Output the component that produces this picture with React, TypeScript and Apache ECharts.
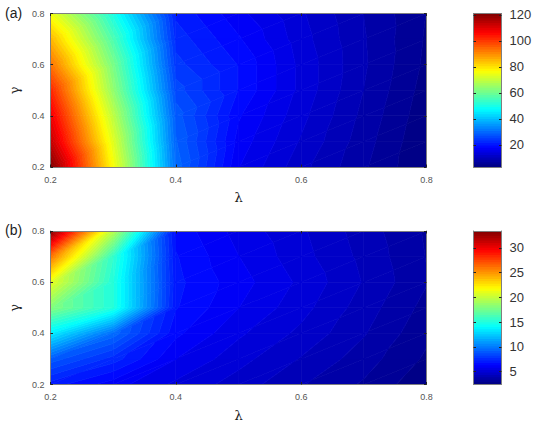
import React, { useEffect, useRef } from "react";
import * as echarts from "echarts";

const lambdas = [0.2, 0.3, 0.4, 0.5, 0.6, 0.7, 0.8];
const gammas = [0.2, 0.3, 0.4, 0.5, 0.6, 0.7, 0.8];
const axisTicks = [0.2, 0.4, 0.6, 0.8];

// rows: gamma ascending, columns: lambda ascending
const valuesA = [
  [121, 76, 30, 16, 11, 7, 3],
  [113, 73, 29, 17, 12, 7.5, 3.2],
  [108, 69, 28, 18, 12.8, 8, 3.6],
  [102, 64, 26, 19.5, 13.5, 8.5, 4],
  [93, 61, 24, 19.5, 13.5, 8.8, 4.4],
  [85, 56, 22.5, 18, 13, 8.7, 4.6],
  [75, 50, 21, 16.5, 12.5, 8.5, 4.8],
];
const valuesB = [
  [7, 6, 5.2, 4.6, 3.9, 3.3, 2.5],
  [9, 7.5, 5.8, 5, 4.3, 3.6, 2.8],
  [13.5, 9.5, 6.4, 5.4, 4.7, 3.9, 3],
  [18, 15, 6.8, 5.8, 5, 4.1, 3.2],
  [21, 15, 6.9, 6, 5.2, 4.3, 3.4],
  [26, 15.5, 6.8, 5.8, 5, 4.2, 3.35],
  [33.4, 19.6, 6.6, 5.6, 4.9, 4.1, 3.3],
];
const rangeA = [3, 121];
const rangeB = [2.4, 33.4];
const barTicksA = [20, 40, 60, 80, 100, 120];
const barTicksB = [5, 10, 15, 20, 25, 30];

const LEVELS = 64;
const FONT = "Liberation Sans";

function jet(t: number) {
  const f = (c: number) => Math.round(255 * Math.max(0, Math.min(1, 1.5 - Math.abs(4 * t - c))));
  return `rgb(${f(3)},${f(2)},${f(1)})`;
}

type P = [number, number, number];

function clip(poly: P[], level: number, keepAbove: boolean): P[] {
  const out: P[] = [];
  for (let i = 0; i < poly.length; i++) {
    const a = poly[i];
    const b = poly[(i + 1) % poly.length];
    const ina = keepAbove ? a[2] >= level : a[2] <= level;
    const inb = keepAbove ? b[2] >= level : b[2] <= level;
    if (ina) out.push(a);
    if (ina !== inb) {
      const k = (level - a[2]) / (b[2] - a[2]);
      out.push([a[0] + (b[0] - a[0]) * k, a[1] + (b[1] - a[1]) * k, level]);
    }
  }
  return out;
}

function contourItem(range: number[]) {
  const step = (range[1] - range[0]) / LEVELS;
  return (_: any, api: any) => {
    const l0 = api.value(0), g0 = api.value(1), l1 = api.value(2), g1 = api.value(3);
    const p00 = api.coord([l0, g0]), p10 = api.coord([l1, g0]), p01 = api.coord([l0, g1]), p11 = api.coord([l1, g1]);
    const A: P = [p00[0], p00[1], api.value(4)];
    const B: P = [p10[0], p10[1], api.value(5)];
    const C: P = [p01[0], p01[1], api.value(6)];
    const D: P = [p11[0], p11[1], api.value(7)];
    const k = api.value(8);
    const lo = range[0] + k * step;
    const hi = lo + step;
    const color = jet((k + 0.5) / LEVELS);
    const children: any[] = [];
    for (const tri of [[A, B, D], [A, D, C]] as P[][]) {
      let poly = k === 0 ? tri : clip(tri, lo, true);
      if (poly.length && k !== LEVELS - 1) poly = clip(poly, hi, false);
      if (poly.length < 3) continue;
      children.push({
        type: "polygon",
        shape: { points: poly.map((p) => [p[0], p[1]]) },
        style: { fill: color, stroke: color, lineWidth: 0.7 },
      });
    }
    return { type: "group", children };
  };
}

// one row per (cell, colour band that the cell reaches), ordered band by band so
// that each band paints over the outline of the one below it
function cells(values: number[][], range: number[]) {
  const step = (range[1] - range[0]) / LEVELS;
  const out: number[][] = [];
  for (let k = 0; k < LEVELS; k++) {
    const lo = range[0] + k * step;
    const hi = lo + step;
    for (let j = 0; j < gammas.length - 1; j++)
      for (let i = 0; i < lambdas.length - 1; i++) {
        const z = [values[j][i], values[j][i + 1], values[j + 1][i], values[j + 1][i + 1]];
        if (Math.max(...z) < lo && k !== 0) continue;
        if (Math.min(...z) > hi && k !== LEVELS - 1) continue;
        out.push([lambdas[i], gammas[j], lambdas[i + 1], gammas[j + 1], z[0], z[1], z[2], z[3], k]);
      }
  }
  return out;
}

function barBands(range: number[]) {
  const step = (range[1] - range[0]) / LEVELS;
  return Array.from({ length: LEVELS }, (_, k) => [range[0] + k * step, k]);
}

const AXIS_LINE = { show: true, lineStyle: { color: "#7f7f7f", width: 1 } };
const TICK_STYLE = { color: "#222", width: 1 };

function buildOption() {
  const grid: any[] = [];
  const xAxis: any[] = [];
  const yAxis: any[] = [];
  const series: any[] = [];

  const panel = (top: number, values: number[][], range: number[], barTicks: number[]) => {
    const g = grid.length;
    grid.push({ left: 50.5, top, width: 376, height: 153.5 });
    const xi = xAxis.length;
    const yi = yAxis.length;
    const fmt = (v: number) => v.toFixed(1);
    const base = { type: "value", min: 0.2, max: 0.8, gridIndex: g, z: 10, splitLine: { show: false }, axisLine: { ...AXIS_LINE, onZero: false } };
    const tick = { show: true, inside: true, length: 2.5, lineStyle: TICK_STYLE, customValues: axisTicks };
    xAxis.push({
      ...base, position: "bottom", name: "λ", nameLocation: "middle", nameGap: 24,
      nameTextStyle: { fontFamily: "DejaVu Serif", fontSize: 13, color: "#222" },
      axisTick: tick,
      axisLabel: { customValues: axisTicks, formatter: fmt, fontFamily: FONT, fontSize: 9, color: "#555", margin: 8 },
    });
    xAxis.push({ ...base, position: "top", axisTick: tick, axisLabel: { show: false } });
    yAxis.push({
      ...base, position: "left", name: "γ", nameLocation: "middle", nameGap: 29,
      nameTextStyle: { fontFamily: "DejaVu Serif", fontSize: 13, color: "#222" },
      axisTick: tick,
      axisLabel: { customValues: axisTicks, formatter: fmt, fontFamily: FONT, fontSize: 9, color: "#555", margin: 6 },
    });
    yAxis.push({ ...base, position: "right", axisTick: tick, axisLabel: { show: false } });
    series.push({
      type: "custom", xAxisIndex: xi, yAxisIndex: yi, clip: true, silent: true,
      renderItem: contourItem(range),
      encode: { x: [0, 2], y: [1, 3] },
      data: cells(values, range),
    });

    const gb = grid.length;
    grid.push({ left: 473.5, top, width: 28, height: 153.5 });
    const bxi = xAxis.length;
    const byi = yAxis.length;
    const bx = { type: "value", min: 0, max: 1, gridIndex: gb, z: 10, splitLine: { show: false }, axisTick: { show: false }, axisLabel: { show: false }, axisLine: { ...AXIS_LINE, onZero: false } };
    xAxis.push({ ...bx, position: "bottom" });
    xAxis.push({ ...bx, position: "top" });
    const by = { type: "value", min: range[0], max: range[1], gridIndex: gb, z: 10, splitLine: { show: false }, axisLine: { ...AXIS_LINE, onZero: false } };
    const btick = { show: true, inside: true, length: 2.5, lineStyle: TICK_STYLE, customValues: barTicks };
    yAxis.push({
      ...by, position: "right", axisTick: btick,
      axisLabel: { customValues: barTicks, fontFamily: FONT, fontSize: 13, color: "#333", margin: 8 },
    });
    yAxis.push({ ...by, position: "left", axisTick: btick, axisLabel: { show: false } });
    series.push({
      type: "custom", xAxisIndex: bxi, yAxisIndex: byi, silent: true,
      renderItem: (_: any, api: any) => {
        const a = api.coord([0, api.value(0)]);
        const b = api.coord([1, range[1]]);
        const color = jet((api.value(1) + 0.5) / LEVELS);
        return {
          type: "rect",
          shape: { x: a[0], y: b[1], width: b[0] - a[0], height: a[1] - b[1] },
          style: { fill: color },
        };
      },
      encode: { y: [0] },
      data: barBands(range),
    });
  };

  panel(13.5, valuesA, rangeA, barTicksA);
  panel(231, valuesB, rangeB, barTicksB);

  return {
    animation: false,
    backgroundColor: "#ffffff",
    grid, xAxis, yAxis, series,
    graphic: [
      { type: "text", left: 5, top: 6, style: { text: "(a)", fontFamily: FONT, fontSize: 14, fill: "#222" } },
      { type: "text", left: 5, top: 223, style: { text: "(b)", fontFamily: FONT, fontSize: 14, fill: "#222" } },
    ],
  };
}

export default function App() {
  const ref = useRef<HTMLDivElement>(null);
  useEffect(() => {
    const chart = echarts.init(ref.current!, undefined, { renderer: "svg" });
    chart.setOption(buildOption() as any);
    return () => chart.dispose();
  }, []);
  return <div ref={ref} style={{ position: "absolute", left: 0, top: 0, width: 540, height: 424 }} />;
}
